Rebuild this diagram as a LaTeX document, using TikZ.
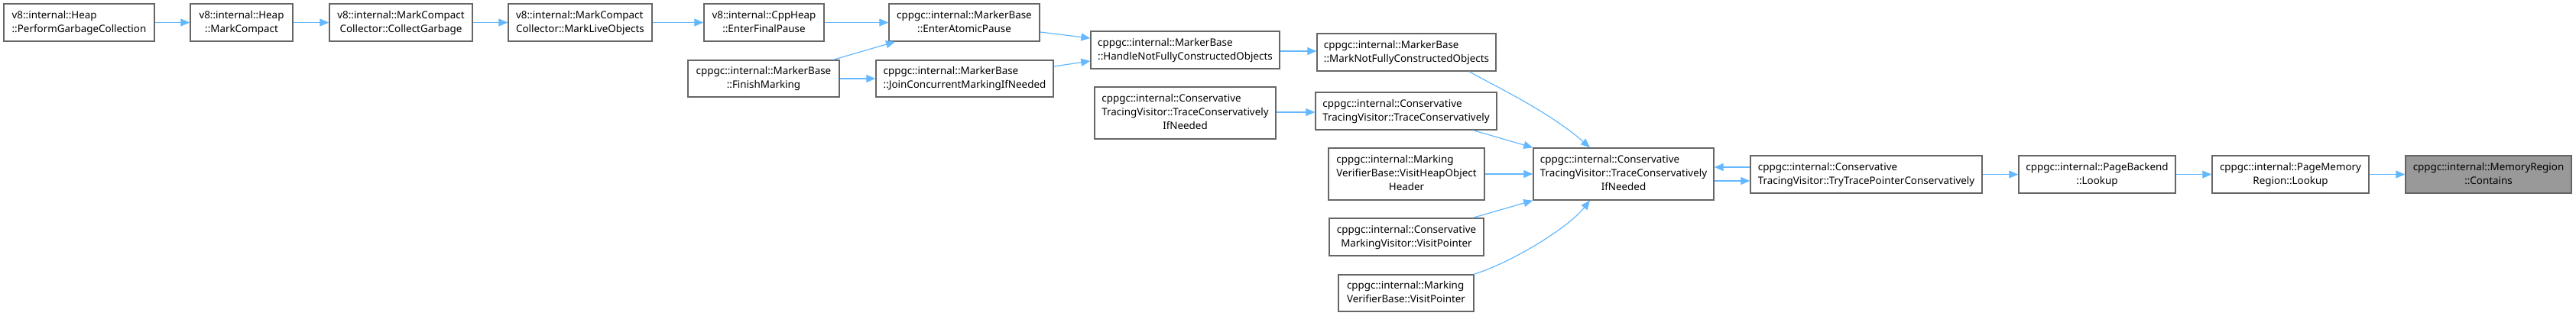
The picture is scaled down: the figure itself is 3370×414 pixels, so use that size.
\documentclass[tikz,border=0pt]{standalone}
\usepackage{fontspec}
\setmainfont{Noto Sans}
\usetikzlibrary{arrows.meta}
\definecolor{edgeblue}{HTML}{63B8FF}
\definecolor{boxline}{HTML}{666666}
\definecolor{hilite}{HTML}{999999}
\newcommand{\bx}[8][]{%
  \node[box,#1,minimum width={(#5-#3)*1pt},minimum height={(#6-#4)*1pt}] (#2) at ({(#3+#5)/2},{(#4+#6)/2})
  {\begin{tabular}{@{}l@{}}#7\\\multicolumn{1}{@{}c@{}}{#8}\end{tabular}};}
\begin{document}
\begin{tikzpicture}[x=1pt,y=-1pt,
  box/.style={draw=boxline,line width=1.4pt,fill=white,inner sep=0pt,
    font=\fontsize{13.4}{18.3}\selectfont},
  edge/.style={draw=edgeblue,line width=1.2pt,-{Triangle[length=12pt,width=10pt]}}]
\useasboundingbox (0,0) rectangle (3370,414);
\bx{n1}{5}{5}{202}{54}{v8::internal::Heap}{::PerformGarbageCollection}
\bx{n2}{249}{5}{383}{54}{v8::internal::Heap}{::MarkCompact}
\bx{n3}{431}{5}{618}{54}{v8::internal::MarkCompact}{Collector::CollectGarbage}
\bx{n4}{665}{5}{853}{54}{v8::internal::MarkCompact}{Collector::MarkLiveObjects}
\bx{n5}{921}{5}{1078}{54}{v8::internal::CppHeap}{::EnterFinalPause}
\bx{n6}{1163}{5}{1360}{54}{cppgc::internal::MarkerBase}{::EnterAtomicPause}
\bx{n7}{1427}{41}{1674}{90}{cppgc::internal::MarkerBase}{::HandleNotFullyConstructedObjects}
\bx{n8}{900}{79}{1098}{127}{cppgc::internal::MarkerBase}{::FinishMarking}
\bx{n9}{1146}{79}{1378}{127}{cppgc::internal::MarkerBase}{::JoinConcurrentMarkingIfNeeded}
\bx{n10}{1432}{114}{1669}{182}{cppgc::internal::Conservative\\TracingVisitor::TraceConservatively}{IfNeeded}
\bx{n11}{1723}{44}{1957}{93}{cppgc::internal::MarkerBase}{::MarkNotFullyConstructedObjects}
\bx{n12}{1721}{121}{1958}{170}{cppgc::internal::Conservative}{TracingVisitor::TraceConservatively}
\bx{n13}{1738}{194}{1942}{262}{cppgc::internal::Marking\\VerifierBase::VisitHeapObject}{Header}
\bx{n14}{2006}{194}{2242}{262}{cppgc::internal::Conservative\\TracingVisitor::TraceConservatively}{IfNeeded}
\bx{n15}{1739}{286}{1941}{335}{cppgc::internal::Conservative}{MarkingVisitor::VisitPointer}
\bx{n16}{1751}{360}{1928}{408}{cppgc::internal::Marking}{VerifierBase::VisitPointer}
\bx{n17}{2290}{204}{2593}{253}{cppgc::internal::Conservative}{TracingVisitor::TryTracePointerConservatively}
\bx{n18}{2641}{204}{2846}{253}{cppgc::internal::PageBackend}{::Lookup}
\bx{n19}{2894}{204}{3099}{253}{cppgc::internal::PageMemory}{Region::Lookup}
\bx[fill=hilite]{n20}{3147}{204}{3364}{253}{cppgc::internal::MemoryRegion}{::Contains}
% edges
\draw[edge] (n1.east) -- (n2.west);
\draw[edge] (n2.east) -- (n3.west);
\draw[edge] (n3.east) -- (n4.west);
\draw[edge] (n4.east) -- (n5.west);
\draw[edge] (n5.east) -- (n6.west);
\draw[edge] (n6.east |- 0,42) -- (n7.west |- 0,50);
\draw[edge] (1090,0 |- n8.north) -- (1171,0 |- n6.south);
\draw[edge] (n8.east) -- (n9.west);
\draw[edge] (n9.east |- 0,87) -- (n7.west |- 0,80);
\draw[edge] (n7.east |- 0,67) -- (n11.west |- 0,67);
\draw[edge] (1922,0 |- n11.south) .. controls (1950,110) and (2025,145) .. (2080,0 |- n14.north);
\draw[edge] (n10.east |- 0,147) -- (n12.west |- 0,147);
\draw[edge] (1927,0 |- n12.south) -- (n14.north west);
\draw[edge] (n13.east |- 0,228) -- (n14.west |- 0,228);
\draw[edge] (1927,0 |- n15.north) -- (n14.south west);
\draw[edge] (1928,0 |- n16.north) .. controls (1975,345) and (2050,300) .. (2080,0 |- n14.south);
\draw[edge] (n17.west |- 0,219) -- (n14.east |- 0,219);
\draw[edge] (n14.east |- 0,237) -- (n17.west |- 0,237);
\draw[edge] (n17.east) -- (n18.west);
\draw[edge] (n18.east) -- (n19.west);
\draw[edge] (n19.east) -- (n20.west);
\end{tikzpicture}
\end{document}
